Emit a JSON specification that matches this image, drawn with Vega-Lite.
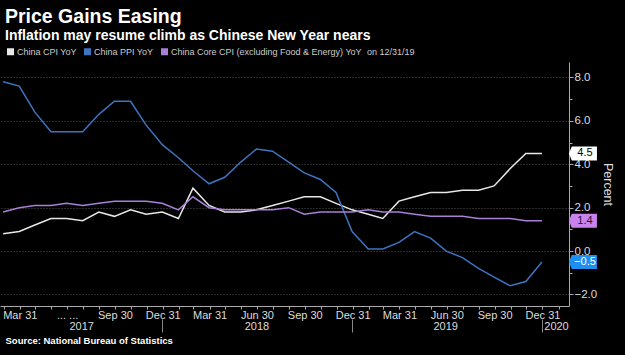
{
  "$schema": "https://vega.github.io/schema/vega-lite/v6.json",
  "width": 569,
  "height": 244,
  "autosize": "none",
  "padding": {"left": 0, "top": 62, "right": 56, "bottom": 49},
  "background": "#000000",
  "config": {
    "font": "Liberation Sans",
    "view": {"stroke": null},
    "axis": {"labelColor": "#dddddd", "labelFont": "Liberation Sans", "titleFont": "Liberation Sans"}
  },
  "title": {
    "text": "Price Gains Easing",
    "subtitle": "Inflation may resume climb as Chinese New Year nears",
    "anchor": "start",
    "frame": "group",
    "dx": 5,
    "offset": 3,
    "font": "Liberation Sans",
    "fontSize": 19.5,
    "fontWeight": "bold",
    "color": "#ffffff",
    "subtitleFont": "Liberation Sans",
    "subtitleFontSize": 14,
    "subtitleFontWeight": "bold",
    "subtitleColor": "#ffffff",
    "subtitlePadding": 2
  },
  "data": {
    "values": [
      {"date": "2017-02-28", "series": "China CPI YoY", "value": 0.8},
      {"date": "2017-03-31", "series": "China CPI YoY", "value": 0.9},
      {"date": "2017-04-30", "series": "China CPI YoY", "value": 1.2},
      {"date": "2017-05-31", "series": "China CPI YoY", "value": 1.5},
      {"date": "2017-06-30", "series": "China CPI YoY", "value": 1.5},
      {"date": "2017-07-31", "series": "China CPI YoY", "value": 1.4},
      {"date": "2017-08-31", "series": "China CPI YoY", "value": 1.8},
      {"date": "2017-09-30", "series": "China CPI YoY", "value": 1.6},
      {"date": "2017-10-31", "series": "China CPI YoY", "value": 1.9},
      {"date": "2017-11-30", "series": "China CPI YoY", "value": 1.7},
      {"date": "2017-12-31", "series": "China CPI YoY", "value": 1.8},
      {"date": "2018-01-31", "series": "China CPI YoY", "value": 1.5},
      {"date": "2018-02-28", "series": "China CPI YoY", "value": 2.9},
      {"date": "2018-03-31", "series": "China CPI YoY", "value": 2.1},
      {"date": "2018-04-30", "series": "China CPI YoY", "value": 1.8},
      {"date": "2018-05-31", "series": "China CPI YoY", "value": 1.8},
      {"date": "2018-06-30", "series": "China CPI YoY", "value": 1.9},
      {"date": "2018-07-31", "series": "China CPI YoY", "value": 2.1},
      {"date": "2018-08-31", "series": "China CPI YoY", "value": 2.3},
      {"date": "2018-09-30", "series": "China CPI YoY", "value": 2.5},
      {"date": "2018-10-31", "series": "China CPI YoY", "value": 2.5},
      {"date": "2018-11-30", "series": "China CPI YoY", "value": 2.2},
      {"date": "2018-12-31", "series": "China CPI YoY", "value": 1.9},
      {"date": "2019-01-31", "series": "China CPI YoY", "value": 1.7},
      {"date": "2019-02-28", "series": "China CPI YoY", "value": 1.5},
      {"date": "2019-03-31", "series": "China CPI YoY", "value": 2.3},
      {"date": "2019-04-30", "series": "China CPI YoY", "value": 2.5},
      {"date": "2019-05-31", "series": "China CPI YoY", "value": 2.7},
      {"date": "2019-06-30", "series": "China CPI YoY", "value": 2.7},
      {"date": "2019-07-31", "series": "China CPI YoY", "value": 2.8},
      {"date": "2019-08-31", "series": "China CPI YoY", "value": 2.8},
      {"date": "2019-09-30", "series": "China CPI YoY", "value": 3.0},
      {"date": "2019-10-31", "series": "China CPI YoY", "value": 3.8},
      {"date": "2019-11-30", "series": "China CPI YoY", "value": 4.5},
      {"date": "2019-12-31", "series": "China CPI YoY", "value": 4.5},
      {"date": "2017-02-28", "series": "China PPI YoY", "value": 7.8},
      {"date": "2017-03-31", "series": "China PPI YoY", "value": 7.6},
      {"date": "2017-04-30", "series": "China PPI YoY", "value": 6.4},
      {"date": "2017-05-31", "series": "China PPI YoY", "value": 5.5},
      {"date": "2017-06-30", "series": "China PPI YoY", "value": 5.5},
      {"date": "2017-07-31", "series": "China PPI YoY", "value": 5.5},
      {"date": "2017-08-31", "series": "China PPI YoY", "value": 6.3},
      {"date": "2017-09-30", "series": "China PPI YoY", "value": 6.9},
      {"date": "2017-10-31", "series": "China PPI YoY", "value": 6.9},
      {"date": "2017-11-30", "series": "China PPI YoY", "value": 5.8},
      {"date": "2017-12-31", "series": "China PPI YoY", "value": 4.9},
      {"date": "2018-01-31", "series": "China PPI YoY", "value": 4.3},
      {"date": "2018-02-28", "series": "China PPI YoY", "value": 3.7},
      {"date": "2018-03-31", "series": "China PPI YoY", "value": 3.1},
      {"date": "2018-04-30", "series": "China PPI YoY", "value": 3.4},
      {"date": "2018-05-31", "series": "China PPI YoY", "value": 4.1},
      {"date": "2018-06-30", "series": "China PPI YoY", "value": 4.7},
      {"date": "2018-07-31", "series": "China PPI YoY", "value": 4.6},
      {"date": "2018-08-31", "series": "China PPI YoY", "value": 4.1},
      {"date": "2018-09-30", "series": "China PPI YoY", "value": 3.6},
      {"date": "2018-10-31", "series": "China PPI YoY", "value": 3.3},
      {"date": "2018-11-30", "series": "China PPI YoY", "value": 2.7},
      {"date": "2018-12-31", "series": "China PPI YoY", "value": 0.9},
      {"date": "2019-01-31", "series": "China PPI YoY", "value": 0.1},
      {"date": "2019-02-28", "series": "China PPI YoY", "value": 0.1},
      {"date": "2019-03-31", "series": "China PPI YoY", "value": 0.4},
      {"date": "2019-04-30", "series": "China PPI YoY", "value": 0.9},
      {"date": "2019-05-31", "series": "China PPI YoY", "value": 0.6},
      {"date": "2019-06-30", "series": "China PPI YoY", "value": 0.0},
      {"date": "2019-07-31", "series": "China PPI YoY", "value": -0.3},
      {"date": "2019-08-31", "series": "China PPI YoY", "value": -0.8},
      {"date": "2019-09-30", "series": "China PPI YoY", "value": -1.2},
      {"date": "2019-10-31", "series": "China PPI YoY", "value": -1.6},
      {"date": "2019-11-30", "series": "China PPI YoY", "value": -1.4},
      {"date": "2019-12-31", "series": "China PPI YoY", "value": -0.5},
      {"date": "2017-02-28", "series": "China Core CPI (excluding Food & Energy) YoY", "value": 1.8},
      {"date": "2017-03-31", "series": "China Core CPI (excluding Food & Energy) YoY", "value": 2.0},
      {"date": "2017-04-30", "series": "China Core CPI (excluding Food & Energy) YoY", "value": 2.1},
      {"date": "2017-05-31", "series": "China Core CPI (excluding Food & Energy) YoY", "value": 2.1},
      {"date": "2017-06-30", "series": "China Core CPI (excluding Food & Energy) YoY", "value": 2.2},
      {"date": "2017-07-31", "series": "China Core CPI (excluding Food & Energy) YoY", "value": 2.1},
      {"date": "2017-08-31", "series": "China Core CPI (excluding Food & Energy) YoY", "value": 2.2},
      {"date": "2017-09-30", "series": "China Core CPI (excluding Food & Energy) YoY", "value": 2.3},
      {"date": "2017-10-31", "series": "China Core CPI (excluding Food & Energy) YoY", "value": 2.3},
      {"date": "2017-11-30", "series": "China Core CPI (excluding Food & Energy) YoY", "value": 2.3},
      {"date": "2017-12-31", "series": "China Core CPI (excluding Food & Energy) YoY", "value": 2.2},
      {"date": "2018-01-31", "series": "China Core CPI (excluding Food & Energy) YoY", "value": 1.9},
      {"date": "2018-02-28", "series": "China Core CPI (excluding Food & Energy) YoY", "value": 2.5},
      {"date": "2018-03-31", "series": "China Core CPI (excluding Food & Energy) YoY", "value": 2.0},
      {"date": "2018-04-30", "series": "China Core CPI (excluding Food & Energy) YoY", "value": 1.9},
      {"date": "2018-05-31", "series": "China Core CPI (excluding Food & Energy) YoY", "value": 1.9},
      {"date": "2018-06-30", "series": "China Core CPI (excluding Food & Energy) YoY", "value": 1.9},
      {"date": "2018-07-31", "series": "China Core CPI (excluding Food & Energy) YoY", "value": 1.9},
      {"date": "2018-08-31", "series": "China Core CPI (excluding Food & Energy) YoY", "value": 2.0},
      {"date": "2018-09-30", "series": "China Core CPI (excluding Food & Energy) YoY", "value": 1.7},
      {"date": "2018-10-31", "series": "China Core CPI (excluding Food & Energy) YoY", "value": 1.8},
      {"date": "2018-11-30", "series": "China Core CPI (excluding Food & Energy) YoY", "value": 1.8},
      {"date": "2018-12-31", "series": "China Core CPI (excluding Food & Energy) YoY", "value": 1.8},
      {"date": "2019-01-31", "series": "China Core CPI (excluding Food & Energy) YoY", "value": 1.9},
      {"date": "2019-02-28", "series": "China Core CPI (excluding Food & Energy) YoY", "value": 1.8},
      {"date": "2019-03-31", "series": "China Core CPI (excluding Food & Energy) YoY", "value": 1.8},
      {"date": "2019-04-30", "series": "China Core CPI (excluding Food & Energy) YoY", "value": 1.7},
      {"date": "2019-05-31", "series": "China Core CPI (excluding Food & Energy) YoY", "value": 1.6},
      {"date": "2019-06-30", "series": "China Core CPI (excluding Food & Energy) YoY", "value": 1.6},
      {"date": "2019-07-31", "series": "China Core CPI (excluding Food & Energy) YoY", "value": 1.6},
      {"date": "2019-08-31", "series": "China Core CPI (excluding Food & Energy) YoY", "value": 1.5},
      {"date": "2019-09-30", "series": "China Core CPI (excluding Food & Energy) YoY", "value": 1.5},
      {"date": "2019-10-31", "series": "China Core CPI (excluding Food & Energy) YoY", "value": 1.5},
      {"date": "2019-11-30", "series": "China Core CPI (excluding Food & Energy) YoY", "value": 1.4},
      {"date": "2019-12-31", "series": "China Core CPI (excluding Food & Energy) YoY", "value": 1.4}
    ]
  },
  "resolve": {"axis": {"x": "independent", "y": "independent"}},
  "layer": [
    {
      "mark": {"type": "line", "strokeWidth": 1.5, "clip": false},
      "encoding": {
        "x": {
          "field": "date", "type": "temporal",
          "scale": {"domain": [{"year": 2017, "month": 2, "date": 22}, {"year": 2020, "month": 2, "date": 21}]},
          "axis": {
            "orient": "bottom", "title": null, "grid": false,
            "tickCount": {"interval": "month", "step": 1},
            "tickSize": 3, "tickColor": "#aaaaaa", "domainColor": "#aaaaaa",
            "labelPadding": 0, "labelFontSize": 11, "labelOverlap": false, "labelFlush": false, "labelBound": false,
            "labelExpr": "month(datum.value) % 3 == 0 ? ((year(datum.value) == 2017 && month(datum.value) == 6) ? '... ...' : timeFormat(datum.value - 86400000, '%b %d')) : ''"
          }
        },
        "y": {
          "field": "value", "type": "quantitative",
          "scale": {"domain": [-2.53, 8.71], "nice": false, "zero": false},
          "axis": {
            "orient": "right", "values": [-2, 0, 2, 4, 6, 8], "format": ".1f",
            "grid": true, "gridColor": "#555555", "gridDash": [1, 2], "gridWidth": 1,
            "tickSize": 4, "tickColor": "#aaaaaa", "domainColor": "#aaaaaa",
            "labelPadding": 1, "labelFontSize": 11.5,
            "title": "Percent", "titleColor": "#dddddd", "titleFontSize": 12.5, "titleFontWeight": "normal", "titlePadding": 4
          }
        },
        "color": {
          "field": "series", "type": "nominal",
          "scale": {
            "domain": ["China CPI YoY", "China PPI YoY", "China Core CPI (excluding Food & Energy) YoY"],
            "range": ["#e8e8e8", "#3f74c0", "#a97fd8"]
          },
          "legend": {
            "orient": "none", "legendX": 6, "legendY": -15, "direction": "horizontal",
            "title": "on 12/31/19", "titleOrient": "right", "titleFontWeight": "normal", "titleFontSize": 9, "titleColor": "#cccccc", "titlePadding": 5,
            "titleFont": "Liberation Sans",
            "labelFont": "Liberation Sans", "labelFontSize": 9, "labelColor": "#cccccc", "labelOffset": 2, "labelLimit": 0,
            "symbolType": "square", "symbolSize": 49, "columnPadding": 6,
            "encode": {"symbols": {"update": {"fill": {"scale": "color", "field": "value"}, "stroke": {"value": "transparent"}, "strokeWidth": {"value": 0}}}}
          }
        }
      }
    },
    {
      "transform": [{"filter": "year(datum.date) == 2019 && month(datum.date) == 11"}],
      "mark": {"type": "point", "filled": true, "shape": "M-1,0L-0.8,-0.5L1,-0.5L1,0.5L-0.8,0.5Z", "size": 784, "xOffset": 41, "opacity": 1, "clip": false},
      "encoding": {
        "x": {
          "field": "date", "type": "temporal",
          "axis": {
            "orient": "bottom", "title": "Source: National Bureau of Statistics",
            "titleAnchor": "start", "titleAlign": "left", "titleBaseline": "top", "titleX": 5, "titleY": 29,
            "titleFontSize": 9.5, "titleFontWeight": "bold", "titleColor": "#ffffff",
            "values": [{"year": 2017, "month": 7, "date": 28}, {"year": 2018, "month": 6, "date": 30}, {"year": 2019, "month": 6, "date": 28}, {"year": 2020, "month": 1, "date": 27}],
            "labelExpr": "timeFormat(datum.value, '%Y')",
            "ticks": false, "domain": false, "grid": false,
            "labelPadding": 14, "labelFontSize": 11, "labelOverlap": false, "labelFlush": false, "labelBound": false
          }
        },
        "y": {
          "field": "value", "type": "quantitative",
          "axis": {"orient": "right", "values": [-1, 1, 3, 5, 7], "labels": false, "domain": false, "grid": false, "tickSize": 3, "tickColor": "#aaaaaa", "title": null}
        },
        "fill": {
          "condition": [
            {"test": "datum.series == 'China PPI YoY'", "value": "#1f8ef1"},
            {"test": "datum.series == 'China CPI YoY'", "value": "#ffffff"}
          ],
          "value": "#c983ec"
        }
      }
    },
    {
      "transform": [{"filter": "year(datum.date) == 2019 && month(datum.date) == 11"}],
      "mark": {"type": "text", "dx": 43, "align": "center", "baseline": "middle", "fontSize": 11, "font": "Liberation Sans"},
      "encoding": {
        "x": {
          "field": "date", "type": "temporal",
          "axis": {
            "orient": "bottom", "title": null, "offset": 13,
            "values": [{"year": 2017, "month": 12, "date": 31}, {"year": 2018, "month": 12, "date": 31}, {"year": 2019, "month": 12, "date": 31}],
            "labels": false, "domain": false, "grid": false, "tickSize": 13, "tickColor": "#888888"
          }
        },
        "y": {"field": "value", "type": "quantitative", "axis": null},
        "text": {"field": "value", "type": "quantitative", "format": ".1f"},
        "color": {
          "condition": [
            {"test": "datum.series == 'China PPI YoY'", "value": "#ffffff"},
            {"test": "datum.series == 'China CPI YoY'", "value": "#000000"}
          ],
          "value": "#2a1038"
        }
      }
    }
  ]
}
